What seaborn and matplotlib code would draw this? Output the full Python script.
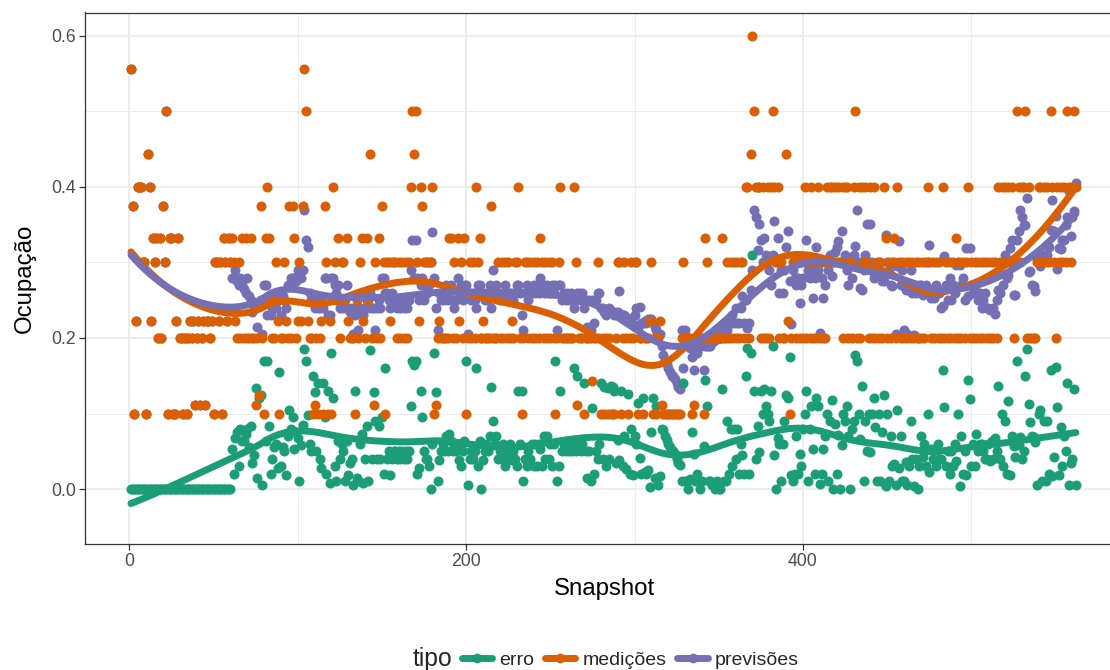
import numpy as np
import pandas as pd
import matplotlib
matplotlib.use("Agg")
import matplotlib.pyplot as plt
import seaborn as sns
from matplotlib.lines import Line2D
from matplotlib.ticker import MultipleLocator, FormatStrFormatter

# Measured occupancy per snapshot (snapshots 1..562)
medicoes = [
    .556, .375, .1, .222, .4, .4, .4, .3, .3, .1,            # 1-10
    .444, .4, .222, .333, .3, .333, .2, .333, .2, .375,      # 11-20
    .3, .5, .1, .333, .333, .1, .1, .222, .333, .2,          # 21-30
    .2, .1, .2, .1, .2, .222, .2, .222, .111, .2,            # 31-40
    .222, .111, .2, .222, .111, .222, .222, .2, .222, .1,    # 41-50
    .3, .3, .222, .3, .1, .333, .3, .222, .333, .3,          # 51-60
    .333, .3, .222, .2, .3, .2, .333, .2, .333, .2,          # 61-70
    .2, .333, .2, .2, .111, .2, .125, .375, .2, .1,          # 71-80
    .333, .4, .333, .25, .2, .2, .3, .222, .1, .2,           # 81-90
    .2, .3, .222, .2, .375, .2, .375, .333, .2, .222,        # 91-100
    .3, .222, .375, .556, .5, .222, .2, .2, .1, .111,        # 101-110
    .2, .1, .2, .222, .1, .375, .3, .1, .222, .1,            # 111-120
    .4, .3, .25, .333, .2, .3, .3, .25, .333, .222,          # 121-130
    .2, .2, .2, .1, .25, .2, .3, .333, .222, .2,             # 131-140
    .333, .25, .444, .2, .111, .3, .2, .333, .2, .375,       # 141-150
    .3, .1, .3, .3, .222, .3, .3, .3, .2, .3,                # 151-160
    .2, .3, .2, .3, .2, .3, .4, .5, .444, .5,                # 161-170
    .3, .222, .4, .375, .3, .3, .3, .3, .3, .4,              # 171-180
    .1, .111, .2, .222, .2, .2, .2, .2, .2, .333,            # 181-190
    .333, .2, .3, .2, .333, .222, .3, .2, .333, .1,          # 191-200
    .2, .3, .2, .3, .2, .4, .3, .333, .2, .222,              # 201-210
    .2, .2, .2, .2, .375, .2, .2, .2, .3, .2,                # 211-220
    .3, .2, .3, .2, .3, .2, .222, .2, .3, .3,                # 221-230
    .4, .2, .1, .2, .3, .3, .2, .3, .2, .3,                  # 231-240
    .2, .3, .2, .333, .3, .2, .3, .2, .3, .2,                # 241-250
    .3, .2, .1, .2, .3, .4, .2, .2, .2, .2,                  # 251-260
    .2, .2, .2, .4, .3, .111, .2, .2, .2, .1,                # 261-270
    .2, .2, .2, .2, .143, .2, .2, .3, .2, .1,                # 271-280
    .2, .1, .2, .1, .2, .1, .1, .1, .2, .3,                  # 281-290
    .3, .1, .2, .3, .2, .1, .2, .3, .2, .3,                  # 291-300
    .3, .1, .2, .2, .1, .2, .2, .2, .222, .3,                # 301-310
    .1, .2, .1, .2, .222, .111, .1, .1, .1, .1,              # 311-320
    .1, .1, .1, .1, .1, .1, .1, .2, .3, .2,                  # 321-330
    .2, .2, .2, .1, .111, .2, .2, .2, .2, .2,                # 331-340
    .1, .333, .3, .2, .2, .2, .2, .2, .2, .2,                # 341-350
    .2, .333, .2, .2, .3, .2, .3, .2, .3, .2,                # 351-360
    .3, .2, .3, .3, .2, .4, .4, .2, .444, .6,                # 361-370
    .5, .4, .4, .4, .2, .4, .2, .2, .4, .2,                  # 371-380
    .4, .5, .4, .3, .4, .2, .3, .2, .2, .444,                # 381-390
    .222, .1, .2, .3, .3, .2, .3, .2, .3, .2,                # 391-400
    .4, .2, .3, .2, .4, .2, .3, .2, .4, .2,                  # 401-410
    .3, .2, .2, .4, .3, .4, .4, .3, .4, .3,                  # 411-420
    .4, .3, .4, .2, .4, .4, .2, .3, .2, .4,                  # 421-430
    .5, .2, .4, .2, .4, .3, .4, .3, .2, .4,                  # 431-440
    .2, .4, .2, .3, .2, .3, .2, .4, .333, .2,                # 441-450
    .3, .2, .3, .333, .2, .4, .3, .2, .3, .2,                # 451-460
    .3, .2, .3, .2, .3, .2, .3, .2, .3, .2,                  # 461-470
    .3, .2, .3, .4, .3, .2, .3, .2, .3, .2,                  # 471-480
    .3, .2, .4, .2, .3, .2, .3, .2, .3, .2,                  # 481-490
    .333, .2, .3, .2, .3, .2, .3, .4, .2, .3,                # 491-500
    .2, .3, .2, .3, .2, .3, .2, .3, .2, .3,                  # 501-510
    .2, .3, .2, .3, .2, .4, .3, .4, .3, .4,                  # 511-520
    .3, .4, .3, .4, .2, .3, .5, .4, .3, .4,                  # 521-530
    .4, .5, .2, .4, .2, .2, .2, .2, .3, .4,                  # 531-540
    .4, .3, .4, .3, .4, .3, .5, .4, .3, .2,                  # 541-550
    .4, .3, .4, .3, .4, .3, .5, .4, .3, .4,                  # 551-560
    .5, .4,                                                  # 561-562
]

# Model forecasts, available from snapshot 61 onwards
previsoes_modelo = [
    .28, .28, .29, .275, .27, .28, .27, .265, .26, .28,      # 61-70
    .255, .25, .235, .245, .245, .215, .245, .25, .205, .27, # 71-80
    .27, .23, .25, .23, .24, .255, .24, .25, .255, .23,      # 81-90
    .255, .25, .24, .27, .27, .28, .28, .28, .275, .29,      # 91-100
    .29, .28, .29, .37, .33, .32, .26, .25, .25, .24,        # 101-110
    .25, .24, .24, .25, .24, .28, .28, .23, .23, .28,        # 111-120
    .28, .27, .26, .27, .24, .24, .25, .24, .27, .24,        # 121-130
    .235, .24, .205, .23, .235, .21, .24, .26, .23, .24,     # 131-140
    .25, .24, .26, .24, .24, .21, .24, .25, .24, .28,        # 141-150
    .28, .26, .26, .25, .24, .26, .25, .25, .24, .25,        # 151-160
    .24, .25, .24, .25, .24, .25, .29, .33, .28, .33,        # 161-170
    .28, .25, .27, .28, .25, .26, .26, .27, .3, .34,         # 171-180
    .28, .24, .21, .26, .25, .26, .25, .27, .25, .26,        # 181-190
    .27, .25, .24, .25, .28, .26, .27, .25, .27, .27,        # 191-200
    .205, .26, .25, .26, .25, .24, .27, .27, .2, .26,        # 201-210
    .25, .26, .25, .27, .24, .29, .26, .27, .26, .25,        # 211-220
    .26, .26, .27, .25, .26, .26, .26, .25, .26, .27,        # 221-230
    .27, .26, .23, .21, .26, .27, .25, .26, .26, .27,        # 231-240
    .26, .27, .26, .28, .27, .27, .26, .27, .26, .26,        # 241-250
    .27, .26, .27, .21, .27, .27, .25, .26, .25, .26,        # 251-260
    .25, .26, .25, .24, .25, .26, .26, .25, .26, .24,        # 261-270
    .25, .215, .25, .21, .25, .22, .25, .26, .26, .24,       # 271-280
    .24, .235, .23, .234, .24, .236, .235, .23, .235, .235,  # 281-290
    .262, .23, .23, .23, .226, .226, .22, .22, .219, .23,    # 291-300
    .24, .214, .241, .22, .22, .223, .22, .225, .225, .225,  # 301-310
    .22, .215, .21, .205, .205, .19, .178, .17, .165, .16,   # 311-320
    .155, .15, .15, .146, .14, .135, .132, .21, .16, .21,    # 321-330
    .19, .2, .187, .175, .157, .19, .18, .19, .2, .19,       # 331-340
    .157, .189, .19, .19, .19, .195, .196, .2, .21, .2,      # 341-350
    .2, .2, .21, .21, .21, .22, .22, .23, .22, .24,          # 351-360
    .22, .22, .24, .255, .22, .25, .213, .22, .264, .29,     # 361-370
    .37, .36, .317, .351, .33, .3, .333, .31, .3, .29,       # 371-380
    .27, .31, .355, .3, .333, .26, .29, .26, .29, .32,       # 381-390
    .342, .275, .219, .29, .28, .27, .28, .246, .27, .28,    # 391-400
    .3, .33, .29, .28, .29, .253, .28, .32, .29, .207,       # 401-410
    .28, .253, .27, .3, .29, .31, .282, .3, .314, .32,       # 411-420
    .328, .3, .342, .3, .31, .29, .27, .3, .28, .31,         # 421-430
    .322, .37, .3, .266, .263, .29, .31, .351, .3, .351,     # 431-440
    .3, .28, .282, .29, .3, .29, .276, .276, .337, .3,       # 441-450
    .29, .27, .269, .3, .205, .295, .328, .27, .29, .21,     # 451-460
    .264, .205, .27, .29, .26, .204, .26, .2, .27, .27,      # 461-470
    .257, .26, .27, .3, .323, .253, .26, .253, .27, .26,     # 471-480
    .26, .24, .243, .308, .27, .25, .28, .25, .27, .26,      # 481-490
    .296, .3, .296, .27, .28, .25, .319, .256, .319, .27,    # 491-500
    .26, .27, .273, .25, .26, .24, .25, .26, .24, .24,       # 501-510
    .237, .237, .24, .232, .25, .263, .26, .3, .27, .31,     # 511-520
    .28, .284, .319, .33, .257, .257, .33, .342, .369, .36,  # 521-530
    .35, .35, .385, .287, .289, .27, .269, .262, .305, .3,   # 531-540
    .295, .31, .31, .31, .31, .32, .343, .383, .342, .362,   # 541-550
    .292, .319, .318, .33, .33, .35, .36, .395, .335, .36,   # 551-560
    .368, .405,                                              # 561-562
]

tipos = ["erro", "medições", "previsões"]
cores = {"erro": "#1B9E77", "medições": "#D95F02", "previsões": "#7570B3"}

snapshot = np.arange(1, len(medicoes) + 1)
med = np.array(medicoes)
# before the first forecast window the forecast simply repeats the measurement
prev = np.concatenate([med[:len(med) - len(previsoes_modelo)], np.array(previsoes_modelo)])
erro = np.abs(med - prev)

series = {"erro": erro, "medições": med, "previsões": prev}
df = pd.concat(
    [pd.DataFrame({"Snapshot": snapshot, "Ocupação": series[t], "tipo": t}) for t in tipos],
    ignore_index=True,
)


def loess(x, y, span=0.3, n_out=400):
    """Local quadratic regression with tricube weights."""
    n = len(x)
    q = int(np.floor(span * n))
    xg = np.linspace(x.min(), x.max(), n_out)
    out = np.empty(n_out)
    for i, x0 in enumerate(xg):
        d = np.abs(x - x0)
        dmax = np.sort(d)[q - 1]
        w = np.clip(1 - (d / dmax) ** 3, 0, None) ** 3
        dx = (x - x0) / dmax
        X = np.column_stack([np.ones_like(dx), dx, dx ** 2])
        sw = np.sqrt(w)
        beta = np.linalg.lstsq(X * sw[:, None], y * sw, rcond=None)[0]
        out[i] = beta[0]
    return xg, out


smooth_rows = []
for t in tipos:
    xg, yg = loess(snapshot.astype(float), series[t])
    smooth_rows.append(pd.DataFrame({"Snapshot": xg, "Ocupação": yg, "tipo": t}))
smooth_df = pd.concat(smooth_rows, ignore_index=True)

sns.set_theme(style="white")
plt.rcParams["font.family"] = ["Liberation Sans", "DejaVu Sans"]

W, H = 1110, 670
fig = plt.figure(figsize=(W / 100, H / 100), dpi=100)
ax = fig.add_axes([85 / W, 1 - 544 / H, 1038 / W, 531.5 / H])

# points: forecasts first, then errors, measurements on top
point_order = ["previsões", "erro", "medições"]
for t in point_order:
    sns.scatterplot(
        data=df[df["tipo"] == t], x="Snapshot", y="Ocupação", color=cores[t],
        s=52, linewidth=0, ax=ax, legend=False, zorder=3,
    )

sns.lineplot(
    data=smooth_df, x="Snapshot", y="Ocupação", hue="tipo", hue_order=tipos,
    palette=cores, linewidth=5, ax=ax, legend=False, zorder=4,
)

ax.set_xlim(-26.3, 590)
ax.set_ylim(-0.0728, 0.631)
ax.xaxis.set_major_locator(MultipleLocator(200))
ax.xaxis.set_minor_locator(MultipleLocator(100))
ax.yaxis.set_major_locator(MultipleLocator(0.2))
ax.yaxis.set_minor_locator(MultipleLocator(0.1))
ax.yaxis.set_major_formatter(FormatStrFormatter("%.1f"))

ax.grid(which="major", color="#EBEBEB", linewidth=1.3, zorder=0)
ax.grid(which="minor", color="#EBEBEB", linewidth=0.65, zorder=0)
ax.set_axisbelow(True)
for sp in ax.spines.values():
    sp.set_color("#333333")
    sp.set_linewidth(0.9)

ax.tick_params(which="major", length=4, width=0.9, color="#333333",
               labelsize=12.7, labelcolor="#4D4D4D", pad=2.5, left=True, bottom=True)
ax.tick_params(which="minor", length=0)

ax.set_xlabel("Snapshot", fontsize=17.3, color="black", labelpad=6)
ax.set_ylabel("Ocupação", fontsize=17.3, color="black", labelpad=11)

# legend along the bottom
fig.text(413 / W, 1 - 659 / H, "tipo", fontsize=17.8, ha="left", va="center")
handles = [
    Line2D([], [], color=cores[t], linewidth=5, marker="o", markersize=7, markeredgewidth=0)
    for t in tipos
]
fig.legend(
    handles, tipos, loc="center left", bbox_to_anchor=(462 / W, 1 - 660 / H),
    ncol=3, frameon=False, fontsize=14.0, handlelength=1.55, handletextpad=0.38,
    columnspacing=0.55, borderpad=0, borderaxespad=0,
)

fig.savefig("out.png", dpi=100)
